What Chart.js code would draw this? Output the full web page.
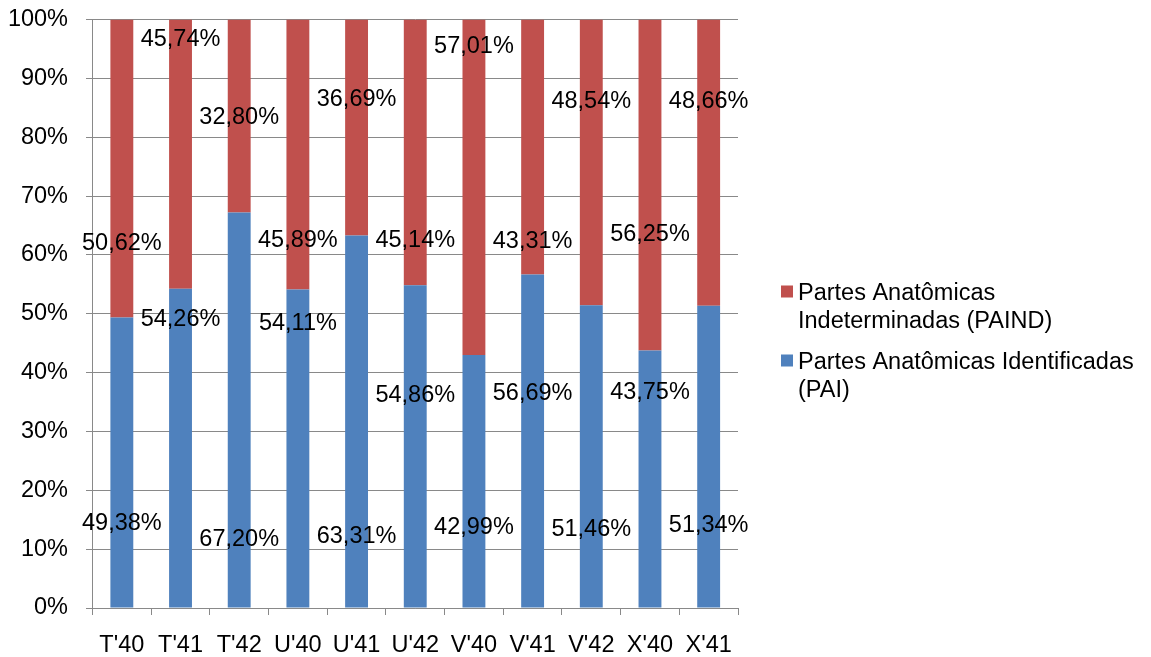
<!DOCTYPE html>
<html lang="pt">
<head>
<meta charset="utf-8">
<title>Partes Anatômicas</title>
<script src="https://cdn.jsdelivr.net/npm/chart.js@4/dist/chart.umd.min.js"></script>
<style>
  html, body { margin: 0; padding: 0; background: #ffffff; }
  #wrap { width: 1151px; height: 657px; position: relative; }
</style>
</head>
<body>
<div id="wrap"><canvas id="chart" width="1151" height="657"></canvas></div>
<script>
// Categories (samples)
const categories = ["T'40", "T'41", "T'42", "U'40", "U'41", "U'42", "V'40", "V'41", "V'42", "X'40", "X'41"];

// Share of identified anatomical parts (%)
const paiValues = [49.38, 54.26, 67.20, 54.11, 63.31, 54.86, 42.99, 56.69, 51.46, 43.75, 51.34];

// Share of undetermined anatomical parts (%)
const paindValues = [50.62, 45.74, 32.80, 45.89, 36.69, 45.14, 57.01, 43.31, 48.54, 56.25, 48.66];

// Where each value label sits, on the percent axis
const paiLabelAt = [14.4, 49.1, 11.7, 48.3, 12.1, 36.1, 13.6, 36.4, 13.3, 36.6, 14.1];
const paindLabelAt = [61.9, 96.6, 83.4, 62.5, 86.4, 62.5, 95.4, 62.2, 86.1, 63.4, 86.0];

// Axis ticks
const yTickStep = 10;

const FONT = '"Liberation Sans", Arial, Helvetica, sans-serif';
const FONT_SIZE = 23.5;
const BLUE = '#4F81BD';
const RED = '#C0504D';
const GRID = '#898989';

function pct(v) {
  return v.toFixed(2).replace('.', ',') + '%';
}

// Value labels drawn on top of the stacked bars
const valueLabels = {
  id: 'valueLabels',
  afterDatasetsDraw(chart) {
    const ctx = chart.ctx;
    const y = chart.scales.y;
    ctx.save();
    ctx.font = FONT_SIZE + 'px ' + FONT;
    ctx.fillStyle = '#000000';
    ctx.textAlign = 'center';
    ctx.textBaseline = 'middle';
    chart.data.datasets.forEach((ds, di) => {
      const meta = chart.getDatasetMeta(di);
      meta.data.forEach((bar, i) => {
        const at = ds.labelAt[i];
        ctx.fillText(pct(ds.data[i]), bar.x, y.getPixelForValue(at));
      });
    });
    ctx.restore();
  }
};

// Side legend with wrapped entry names, top series listed first
const sideLegend = {
  id: 'sideLegend',
  afterDraw(chart) {
    const ctx = chart.ctx;
    const area = chart.chartArea;
    const x0 = area.right + 43;
    const lineGap = 28;
    const itemGap = 69;
    let baseline = 300;
    ctx.save();
    ctx.font = FONT_SIZE + 'px ' + FONT;
    ctx.textAlign = 'left';
    ctx.textBaseline = 'alphabetic';
    const items = chart.data.datasets.slice().reverse();
    items.forEach((ds) => {
      ctx.fillStyle = ds.backgroundColor;
      ctx.fillRect(x0, baseline - 14.5, 12, 12);
      ctx.fillStyle = '#000000';
      ds.legendLines.forEach((line, li) => {
        ctx.fillText(line, x0 + 17, baseline + li * lineGap);
      });
      baseline += itemGap;
    });
    ctx.restore();
  }
};

new Chart(document.getElementById('chart'), {
  type: 'bar',
  data: {
    labels: categories,
    datasets: [
      {
        label: 'Partes Anatômicas Identificadas (PAI)',
        legendLines: ['Partes Anatômicas Identificadas', '(PAI)'],
        data: paiValues,
        labelAt: paiLabelAt,
        backgroundColor: BLUE,
        barPercentage: 0.39,
        categoryPercentage: 1.0
      },
      {
        label: 'Partes Anatômicas Indeterminadas (PAIND)',
        legendLines: ['Partes Anatômicas', 'Indeterminadas (PAIND)'],
        data: paindValues,
        labelAt: paindLabelAt,
        backgroundColor: RED,
        barPercentage: 0.39,
        categoryPercentage: 1.0
      }
    ]
  },
  options: {
    responsive: false,
    animation: false,
    devicePixelRatio: 1,
    layout: { padding: { top: 19.5, right: 413, bottom: 0, left: 0 } },
    plugins: {
      legend: { display: false },
      tooltip: { enabled: false },
      title: { display: false }
    },
    scales: {
      x: {
        stacked: true,
        offset: true,
        grid: {
          display: true,
          drawOnChartArea: false,
          drawTicks: true,
          tickLength: 7,
          offset: true,
          color: GRID
        },
        border: { display: true, color: GRID, width: 1 },
        ticks: {
          color: '#000000',
          font: { family: FONT, size: FONT_SIZE },
          padding: 16,
          maxRotation: 0,
          autoSkip: false
        },
        afterFit(scale) {
          scale.height = 49;
          scale.paddingLeft = 0;
          scale.paddingRight = 0;
        }
      },
      y: {
        stacked: true,
        min: 0,
        max: 100,
        grid: {
          color: GRID,
          tickLength: 6.5,
          drawTicks: true
        },
        border: { display: true, color: GRID, width: 1 },
        ticks: {
          stepSize: yTickStep,
          color: '#000000',
          font: { family: FONT, size: FONT_SIZE },
          padding: 18,
          callback: (v) => v + '%'
        },
        afterFit(scale) {
          scale.width = 92.5;
          scale.paddingTop = 0;
          scale.paddingBottom = 0;
        }
      }
    }
  },
  plugins: [valueLabels, sideLegend]
});
</script>
</body>
</html>
